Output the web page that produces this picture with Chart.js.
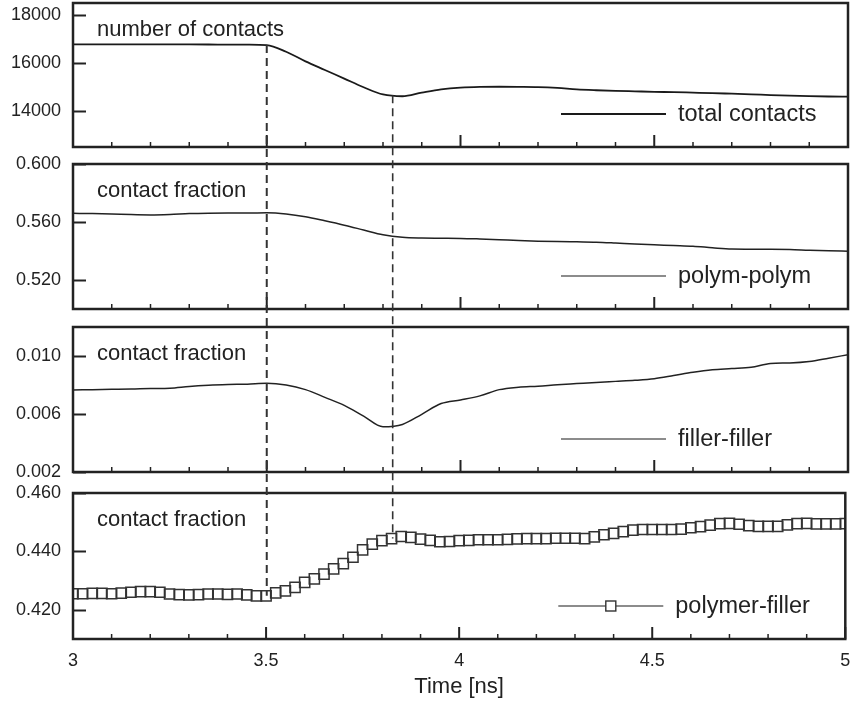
<!DOCTYPE html>
<html>
<head>
<meta charset="utf-8">
<script src="https://cdn.jsdelivr.net/npm/chart.js@4.4.0/dist/chart.umd.min.js"></script>
<style>
  html, body { margin: 0; padding: 0; background: #fff; }
  #wrap { position: relative; width: 852px; height: 704px; overflow: hidden; }
  #wrap canvas { position: absolute; left: 0; }
</style>
</head>
<body>
<div id="wrap">
  <canvas id="c1"></canvas>
  <canvas id="c2"></canvas>
  <canvas id="c3"></canvas>
  <canvas id="c4"></canvas>
  <canvas id="overlay" width="852" height="704"></canvas>
</div>
<script>
// sampling times [ns]
var timeFine = [3.000, 3.025, 3.050, 3.075, 3.100, 3.125, 3.150, 3.175, 3.200, 3.225,
                3.250, 3.275, 3.300, 3.325, 3.350, 3.375, 3.400, 3.425, 3.450, 3.475,
                3.500, 3.525, 3.550, 3.575, 3.600, 3.625, 3.650, 3.675, 3.700, 3.725,
                3.750, 3.775, 3.800, 3.825, 3.850, 3.875, 3.900, 3.925, 3.950, 3.975,
                4.000, 4.025, 4.050, 4.075, 4.100, 4.125, 4.150, 4.175, 4.200, 4.225,
                4.250, 4.275, 4.300, 4.325, 4.350, 4.375, 4.400, 4.425, 4.450, 4.475,
                4.500, 4.525, 4.550, 4.575, 4.600, 4.625, 4.650, 4.675, 4.700, 4.725,
                4.750, 4.775, 4.800, 4.825, 4.850, 4.875, 4.900, 4.925, 4.950, 4.975, 5.000];
var timeCoarse = timeFine.filter(function (t, i) { return i % 2 === 0; });

// total number of contacts (0.05 ns steps)
var totalContacts = [16780, 16780, 16779, 16778, 16776, 16775, 16772, 16770, 16768, 16765,
                     16745, 16470, 16070, 15710, 15350, 14990, 14690, 14615, 14765, 14900,
                     14975, 15005, 15010, 15005, 14995, 14960, 14900, 14865, 14840, 14820,
                     14800, 14785, 14765, 14745, 14720, 14695, 14665, 14640, 14620, 14605, 14595];

// polymer-polymer contact fraction (0.05 ns steps)
var polymPolym = [0.5660, 0.5658, 0.5655, 0.5651, 0.5649, 0.5652, 0.5658, 0.5661, 0.5662, 0.5662,
                  0.5663, 0.5655, 0.5636, 0.5608, 0.5578, 0.5545, 0.5512, 0.5494, 0.5489, 0.5488,
                  0.5487, 0.5483, 0.5478, 0.5472, 0.5468, 0.5465, 0.5463, 0.5461, 0.5455, 0.5448,
                  0.5443, 0.5438, 0.5433, 0.5422, 0.5413, 0.5412, 0.5412, 0.5410, 0.5405, 0.5401, 0.5399];

// filler-filler contact fraction (0.05 ns steps)
var fillerFiller = [0.00766, 0.00768, 0.00770, 0.00772, 0.00776, 0.00778, 0.00790, 0.00798, 0.00803, 0.00806,
                    0.00812, 0.00800, 0.00768, 0.00715, 0.00660, 0.00585, 0.00512, 0.00528, 0.00598, 0.00672,
                    0.00697, 0.00725, 0.00768, 0.00785, 0.00792, 0.00802, 0.00810, 0.00818, 0.00825, 0.00832,
                    0.00843, 0.00865, 0.00888, 0.00905, 0.00913, 0.00922, 0.00948, 0.00952, 0.00962, 0.00985, 0.01009];

// polymer-filler contact fraction (0.025 ns steps)
var polymerFiller = [0.4255, 0.4255, 0.4256, 0.4256, 0.4255, 0.4257, 0.4260, 0.4262, 0.4262, 0.4260,
                     0.4254, 0.4252, 0.4251, 0.4252, 0.4254, 0.4254, 0.4253, 0.4254, 0.4251, 0.4248,
                     0.4248, 0.4258, 0.4265, 0.4277, 0.4294, 0.4306, 0.4322, 0.4340, 0.4358, 0.4380,
                     0.4405, 0.4425, 0.4437, 0.4444, 0.4451, 0.4448, 0.4442, 0.4438, 0.4433, 0.4434,
                     0.4437, 0.4438, 0.4440, 0.4440, 0.4440, 0.4441, 0.4443, 0.4444, 0.4444, 0.4444,
                     0.4445, 0.4445, 0.4445, 0.4444, 0.4450, 0.4457, 0.4462, 0.4468, 0.4473, 0.4475,
                     0.4475, 0.4475, 0.4475, 0.4476, 0.4481, 0.4485, 0.4490, 0.4495, 0.4496, 0.4493,
                     0.4488, 0.4486, 0.4486, 0.4486, 0.4491, 0.4495, 0.4496, 0.4494, 0.4494, 0.4494, 0.4495];

// axis ticks
var xTicks = [3, 3.5, 4, 4.5, 5];
var yTicksContacts = [14000, 16000, 18000];
var yTicksPolym = [0.52, 0.56, 0.60];
var yTicksFiller = [0.002, 0.006, 0.010];
var yTicksPolFil = [0.42, 0.44, 0.46];

// times marked by the dashed lines
var markerTimes = [3.5, 3.825];

var FONT = "'Liberation Sans', Arial, Helvetica, sans-serif";
var INK = '#222';
Chart.defaults.font.family = FONT;
Chart.defaults.color = INK;

function pairs(t, v) {
  return t.map(function (x, i) { return { x: x, y: v[i] }; });
}

// frame, inward ticks, panel caption and in-panel legend
var panelDeco = {
  id: 'panelDeco',
  afterDraw: function (chart, args, opts) {
    var ctx = chart.ctx, a = chart.chartArea;
    var xs = chart.scales.x, ys = chart.scales.y;
    ctx.save();
    ctx.strokeStyle = INK;
    // ticks on the left axis
    ctx.lineWidth = 2;
    ys.ticks.forEach(function (t) {
      var y = Math.round(ys.getPixelForValue(t.value)) + 0.5;
      ctx.beginPath(); ctx.moveTo(a.left, y); ctx.lineTo(a.left + 13, y); ctx.stroke();
    });
    // major and minor ticks on the bottom axis
    xTicks.forEach(function (v, i) {
      var x = xs.getPixelForValue(v);
      ctx.lineWidth = 2;
      ctx.beginPath(); ctx.moveTo(x, a.bottom); ctx.lineTo(x, a.bottom - 12); ctx.stroke();
      if (i < xTicks.length - 1) {
        var step = (xTicks[i + 1] - v) / 5;
        ctx.lineWidth = 1.5;
        for (var k = 1; k < 5; k++) {
          var xm = xs.getPixelForValue(v + k * step);
          ctx.beginPath(); ctx.moveTo(xm, a.bottom); ctx.lineTo(xm, a.bottom - 5); ctx.stroke();
        }
      }
    });
    // frame
    ctx.lineWidth = 2.5;
    ctx.strokeRect(a.left, a.top, a.right - a.left, a.bottom - a.top);
    // caption
    ctx.fillStyle = INK;
    ctx.font = '22px ' + FONT;
    ctx.textBaseline = 'alphabetic';
    ctx.textAlign = 'left';
    ctx.fillText(opts.caption, a.left + 24, a.top + 33);
    // legend
    var ds = chart.data.datasets[0];
    var ly = a.bottom - 33;
    var lx0 = a.right - 287, lx1 = a.right - 182;
    ctx.strokeStyle = opts.legendColor;
    ctx.lineWidth = opts.legendWidth;
    ctx.beginPath(); ctx.moveTo(lx0, ly); ctx.lineTo(lx1, ly); ctx.stroke();
    if (opts.square) {
      var s = 10, cx = (lx0 + lx1) / 2;
      ctx.fillStyle = '#fff';
      ctx.fillRect(cx - s / 2, ly - s / 2, s, s);
      ctx.strokeStyle = ds.pointBorderColor;
      ctx.lineWidth = 1.4;
      ctx.strokeRect(cx - s / 2, ly - s / 2, s, s);
    }
    ctx.fillStyle = INK;
    ctx.font = '23.5px ' + FONT;
    ctx.textBaseline = 'middle';
    ctx.fillText(ds.label, a.right - 170, ly + 1);
    ctx.restore();
  }
};
Chart.register(panelDeco);

// panel boxes on the page (plot area top / bottom in px)
var panels = [
  { id: 'c1', top: 3,   bottom: 147 },
  { id: 'c2', top: 164, bottom: 309 },
  { id: 'c3', top: 327, bottom: 472 },
  { id: 'c4', top: 493, bottom: 639 }
];
var PAD = 16;

function makePanel(p, dataset, yMin, yMax, yTicks, fmt, deco, isLast) {
  var canvas = document.getElementById(p.id);
  var cTop = p.top - PAD;
  var cHeight = isLast ? 704 - cTop : (p.bottom - p.top) + 2 * PAD;
  canvas.width = 854;
  canvas.height = cHeight;
  canvas.style.top = cTop + 'px';
  return new Chart(canvas, {
    type: 'line',
    data: { datasets: [dataset] },
    options: {
      responsive: false,
      animation: false,
      events: [],
      layout: { padding: { top: PAD, bottom: isLast ? 0 : PAD, left: 0, right: 6 } },
      plugins: { legend: { display: false }, tooltip: { enabled: false }, panelDeco: deco },
      scales: {
        x: {
          type: 'linear', min: 3, max: 5,
          display: isLast,
          afterBuildTicks: function (s) { s.ticks = xTicks.map(function (v) { return { value: v }; }); },
          afterFit: function (s) {
            s.paddingLeft = 0;
            s.paddingRight = 0;
            if (isLast) s.height = 704 - p.bottom;
          },
          grid: { display: false, drawTicks: false },
          border: { display: false },
          ticks: { font: { size: 18 }, color: INK, padding: 11, maxRotation: 0, autoSkip: false,
                   callback: function (v) { return String(v); } },
          title: { display: isLast, text: 'Time [ns]', font: { size: 22 }, color: INK,
                   padding: { top: 0, bottom: 4 } }
        },
        y: {
          type: 'linear', min: yMin, max: yMax,
          afterBuildTicks: function (s) { s.ticks = yTicks.map(function (v) { return { value: v }; }); },
          afterFit: function (s) {
            s.width = 73;
            s.paddingTop = 0;
            s.paddingBottom = 0;
          },
          grid: { display: false, drawTicks: false },
          border: { display: false },
          ticks: { font: { size: 18 }, color: INK, padding: 12, callback: fmt }
        }
      }
    }
  });
}

function fmtInt(v) { return String(v); }
function fmt3(v) { return v.toFixed(3); }

var charts = [];
charts.push(makePanel(panels[0], {
  label: 'total contacts', data: pairs(timeCoarse, totalContacts),
  borderColor: '#1a1a1a', borderWidth: 1.8, pointRadius: 0, cubicInterpolationMode: 'monotone'
}, 12500, 18500, yTicksContacts, fmtInt,
  { caption: 'number of contacts', legendColor: '#1a1a1a', legendWidth: 2 }, false));

charts.push(makePanel(panels[1], {
  label: 'polym-polym', data: pairs(timeCoarse, polymPolym),
  borderColor: '#222', borderWidth: 1.5, pointRadius: 0, cubicInterpolationMode: 'monotone'
}, 0.50, 0.60, yTicksPolym, fmt3,
  { caption: 'contact fraction', legendColor: '#666', legendWidth: 1.5 }, false));

charts.push(makePanel(panels[2], {
  label: 'filler-filler', data: pairs(timeCoarse, fillerFiller),
  borderColor: '#222', borderWidth: 1.5, pointRadius: 0, cubicInterpolationMode: 'monotone'
}, 0.002, 0.012, yTicksFiller, fmt3,
  { caption: 'contact fraction', legendColor: '#666', legendWidth: 1.5 }, false));

charts.push(makePanel(panels[3], {
  label: 'polymer-filler', data: pairs(timeFine, polymerFiller),
  showLine: false, pointStyle: 'rect', pointRadius: 7.2,
  pointBorderColor: '#333', pointBorderWidth: 1.5, pointBackgroundColor: 'rgba(255,255,255,0)',
  borderColor: '#666', borderWidth: 1
}, 0.41, 0.46, yTicksPolFil, fmt3,
  { caption: 'contact fraction', legendColor: '#666', legendWidth: 1.5, square: true }, true));

// value of a series at time t (linear between samples)
function valueAt(times, vals, t) {
  for (var i = 0; i < times.length - 1; i++) {
    if (t >= times[i] && t <= times[i + 1]) {
      var f = (t - times[i]) / (times[i + 1] - times[i]);
      return vals[i] + f * (vals[i + 1] - vals[i]);
    }
  }
  return vals[vals.length - 1];
}

// dashed markers running from the top curve down to the bottom curve
var ov = document.getElementById('overlay').getContext('2d');
var first = charts[0], last = charts[3];
markerTimes.forEach(function (t, k) {
  var x = first.scales.x.getPixelForValue(t);
  var y0 = first.canvas.offsetTop + first.scales.y.getPixelForValue(valueAt(timeCoarse, totalContacts, t));
  var y1 = last.canvas.offsetTop + last.scales.y.getPixelForValue(valueAt(timeFine, polymerFiller, t));
  ov.save();
  ov.strokeStyle = '#333';
  ov.lineWidth = k === 0 ? 2 : 1.6;
  ov.setLineDash([8, 5]);
  ov.beginPath(); ov.moveTo(x, y0); ov.lineTo(x, y1); ov.stroke();
  ov.restore();
});
</script>
</body>
</html>
